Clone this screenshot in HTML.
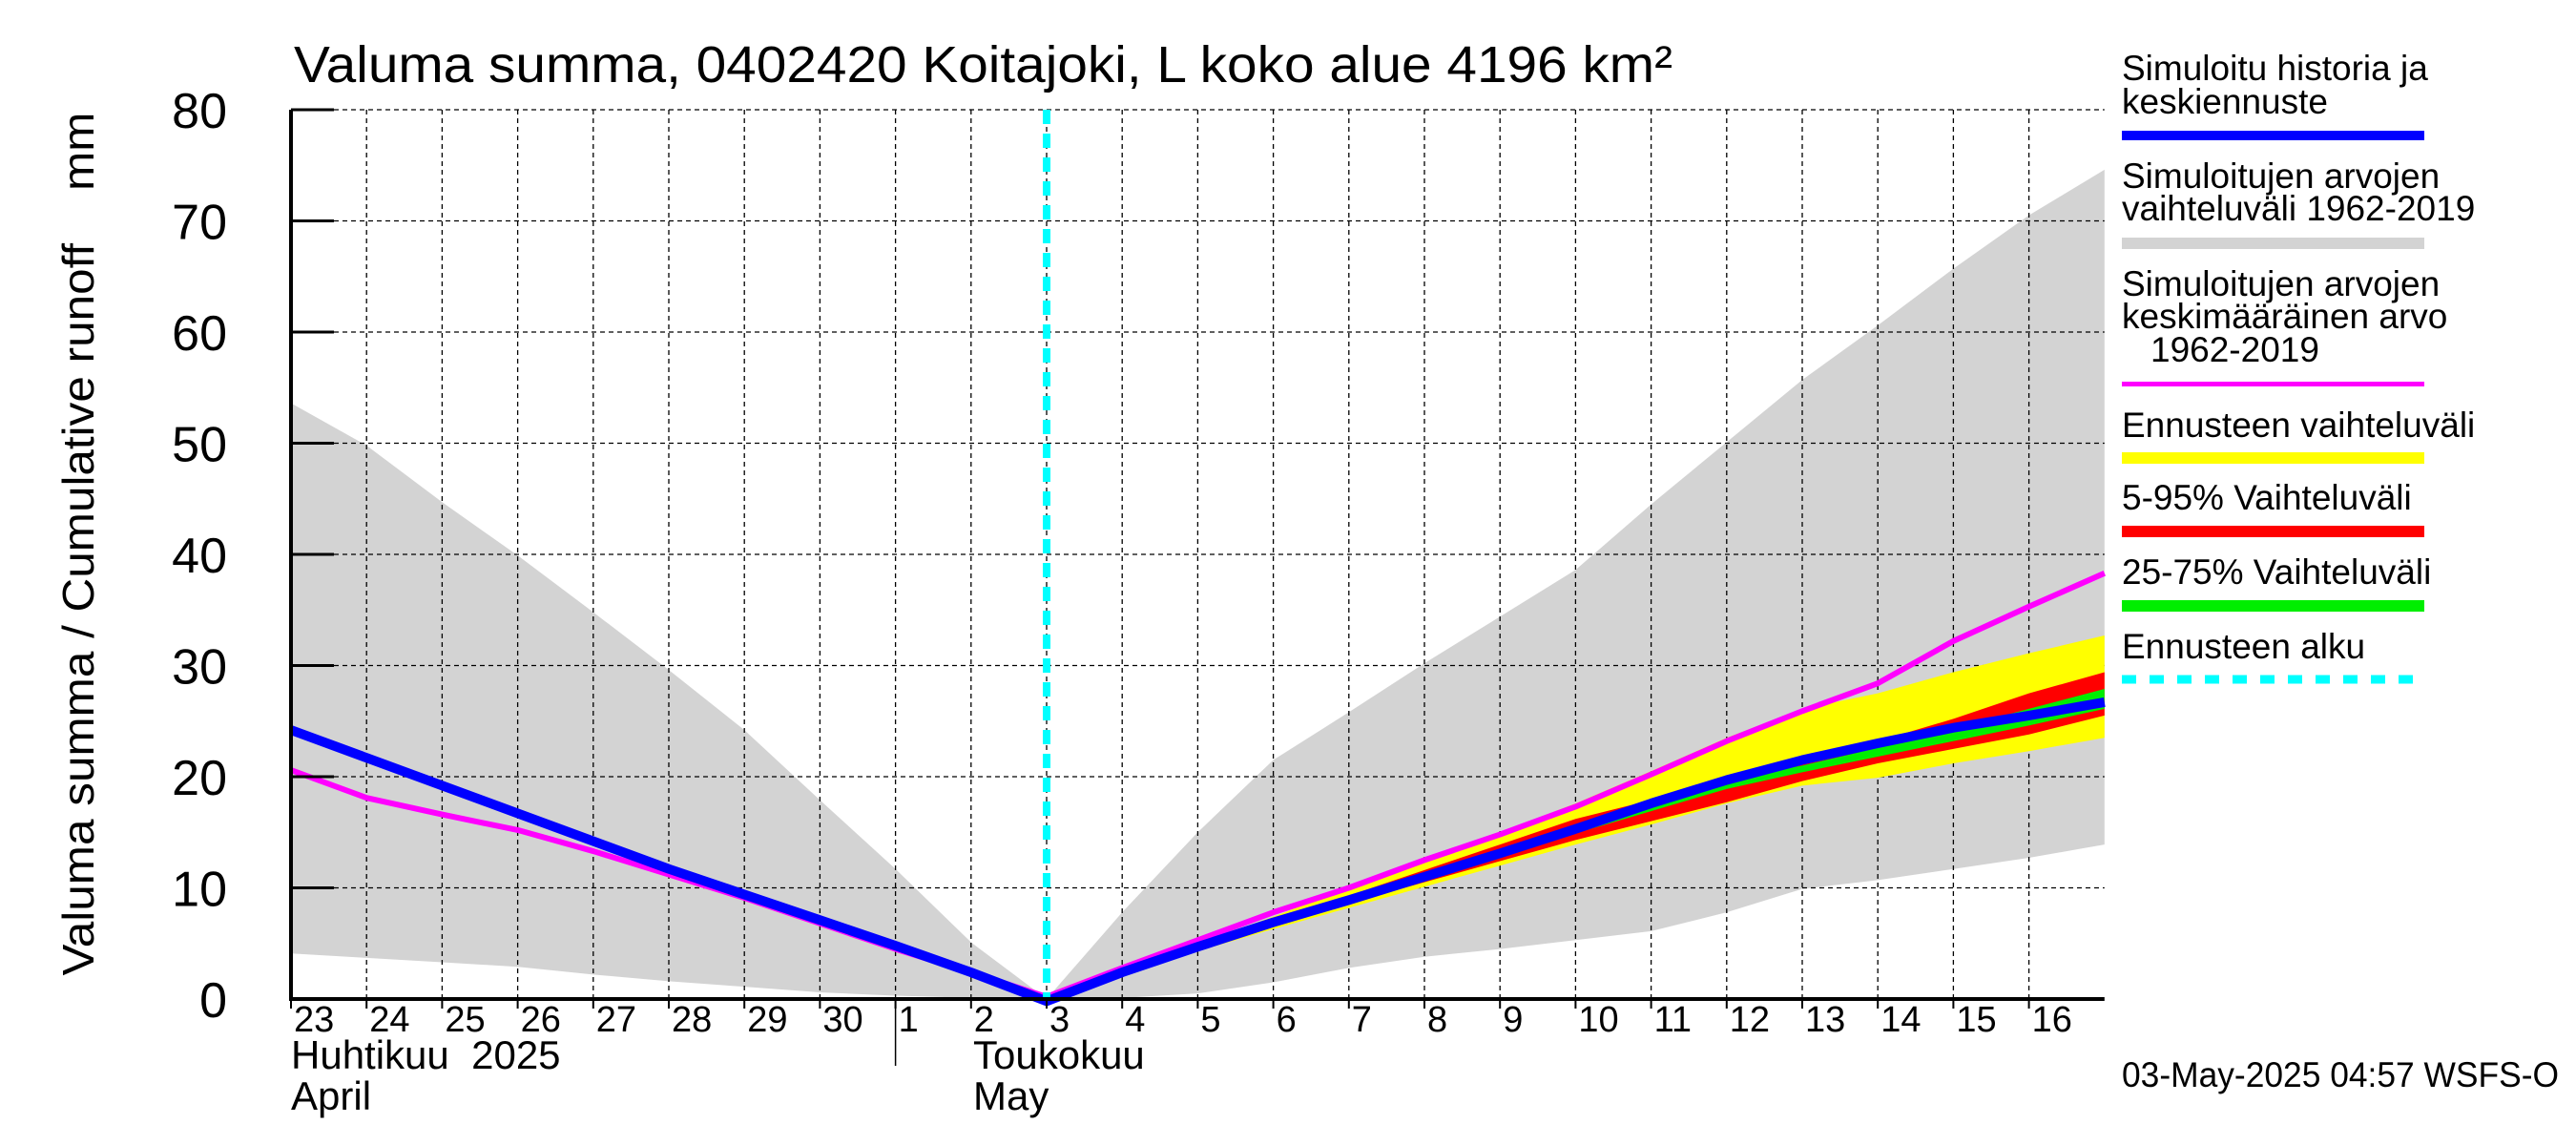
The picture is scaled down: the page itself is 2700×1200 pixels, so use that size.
<!DOCTYPE html>
<html><head><meta charset="utf-8"><style>
html,body{margin:0;padding:0;background:#fff;}
svg{display:block;font-family:"Liberation Sans",sans-serif;}
</style></head><body>
<svg id="chart" width="2700" height="1200" viewBox="0 0 2700 1200" xmlns="http://www.w3.org/2000/svg">
<text x="308" y="86" font-size="54" textLength="1445" lengthAdjust="spacingAndGlyphs">Valuma summa, 0402420 Koitajoki, L koko alue 4196 km²</text>
<text transform="translate(98,570) rotate(-90)" text-anchor="middle" font-size="46" textLength="905" lengthAdjust="spacingAndGlyphs" xml:space="preserve" style="white-space:pre">Valuma summa / Cumulative runoff    mm</text>
<g id="plot"></g>
<g id="legend" font-size="37">
 <text x="2224" y="84">Simuloitu historia ja</text><text x="2224" y="119">keskiennuste</text>
 <rect x="2224" y="137" width="317" height="10" fill="#0000ff"/>
 <text x="2224" y="197">Simuloitujen arvojen</text><text x="2224" y="231">vaihteluväli 1962-2019</text>
 <rect x="2224" y="249" width="317" height="12" fill="#d3d3d3"/>
 <text x="2224" y="310">Simuloitujen arvojen</text><text x="2224" y="344">keskimääräinen arvo</text><text x="2254" y="379">1962-2019</text>
 <rect x="2224" y="400" width="317" height="5" fill="#ff00ff"/>
 <text x="2224" y="458">Ennusteen vaihteluväli</text>
 <rect x="2224" y="474" width="317" height="12" fill="#ffff00"/>
 <text x="2224" y="534">5-95% Vaihteluväli</text>
 <rect x="2224" y="551" width="317" height="12" fill="#ff0000"/>
 <text x="2224" y="612">25-75% Vaihteluväli</text>
 <rect x="2224" y="629" width="317" height="12" fill="#00ee00"/>
 <text x="2224" y="690">Ennusteen alku</text>
 <line x1="2224" y1="712" x2="2541" y2="712" stroke="#00ffff" stroke-width="9" stroke-dasharray="15,14"/>
</g>
<text x="2224" y="1139" font-size="37" textLength="458" lengthAdjust="spacingAndGlyphs">03-May-2025 04:57 WSFS-O</text>
</svg>
<script>
const dayLabels=["23","24","25","26","27","28","29","30","1","2","3","4","5","6","7","8","9","10","11","12","13","14","15","16"];
const yTicks=[0,10,20,30,40,50,60,70,80];
const histDays=[0,1,2,3,4,5,6,7,8,9,10,11,12,13,14,15,16,17,18,19,20,21,22,23,24];
const greyUpper=[53.6,49.8,44.7,39.9,34.8,29.6,24.2,17.9,11.7,5.1,0,7.8,15,21.5,25.8,30.2,34.4,38.6,44.5,50.1,55.7,60.6,65.7,70.5,74.6];
const greyLower=[4.1,3.7,3.3,2.9,2.2,1.6,1.1,0.6,0.3,0.1,0,0.1,0.5,1.5,2.8,3.8,4.5,5.3,6.1,7.8,9.9,10.7,11.7,12.7,13.9];
const meanVals=[20.6,18.1,16.6,15.2,13.3,11.2,9.1,6.8,4.5,2.4,0.2,2.8,5.3,7.8,10.0,12.5,14.8,17.3,20.2,23.2,25.9,28.4,32.2,35.3,38.3];
const blueVals=[24.2,21.7,19.2,16.7,14.2,11.7,9.4,7.1,4.8,2.4,-0.2,2.4,4.7,6.9,8.9,11.0,13.1,15.3,17.6,19.7,21.5,23.0,24.4,25.5,26.7];
const fcDays=[10,11,12,13,14,15,16,17,18,19,20,21,22,23,24];
const yelUp=[0,2.6,5.0,7.4,10.0,12.5,15.0,17.6,20.5,23.5,26.1,27.5,29.4,31.1,32.7];
const yelLo=[0,2.2,4.3,6.3,8.2,10.1,12.0,13.9,15.7,17.6,19.2,19.9,21.2,22.3,23.5];
const redUp=[0,2.5,4.8,7.1,9.3,11.6,13.9,16.2,17.9,19.9,21.5,23.2,25.2,27.5,29.4];
const redLo=[0,2.3,4.5,6.6,8.6,10.5,12.4,14.3,16.0,17.7,19.6,21.2,22.5,23.8,25.5];
const grnUp=[0,2.45,4.7,6.95,9.1,11.3,13.5,15.7,17.7,19.8,21.0,22.6,24.3,26.1,27.9];
const grnLo=[0,2.35,4.6,6.8,8.8,10.8,12.8,14.9,16.9,18.9,20.4,21.8,23.2,24.6,26.1];
const forecastStart=10;

const X0=305,DW=79.2,Y0=1047,YU=11.65;
const xs=d=>X0+d*DW, ys=v=>Y0-v*YU;
const NS="http://www.w3.org/2000/svg";
const plot=document.getElementById('plot');
function mk(t,a){const e=document.createElementNS(NS,t);for(const k in a)e.setAttribute(k,a[k]);plot.appendChild(e);return e;}
function band(days,up,lo,fill,name){
  let p=days.map((d,i)=>xs(d)+','+ys(up[i]));
  for(let i=days.length-1;i>=0;i--)p.push(xs(days[i])+','+ys(lo[i]));
  const e=mk('polygon',{points:p.join(' '),fill:fill});
  
  
}
function line(days,vals,stroke,w,name){
  const e=mk('polyline',{points:days.map((d,i)=>xs(d)+','+ys(vals[i])).join(' '),fill:'none',stroke:stroke,'stroke-width':w,'stroke-linejoin':'round'});
  
  
}
band(histDays,greyUpper,greyLower,'#d3d3d3','simulated-range-band');
for(let d=1;d<24;d++){const g=mk('line',{x1:xs(d),y1:ys(80),x2:xs(d),y2:Y0,stroke:'#000','stroke-width':1.3,'stroke-dasharray':'5,4'});

}
for(const v of yTicks){if(v===0)continue;const g=mk('line',{x1:X0,y1:ys(v),x2:xs(24),y2:ys(v),stroke:'#000','stroke-width':1.3,'stroke-dasharray':'5,4'});

}
band(fcDays,yelUp,yelLo,'#ffff00','forecast-range-band');
band(fcDays,redUp,redLo,'#ff0000','band-5-95');
band(fcDays,grnUp,grnLo,'#00ee00','band-25-75');
line(histDays,meanVals,'#ff00ff',6,'mean-line');
line(histDays,blueVals,'#0000ff',10,'simulated-history-line');
const fs=mk('line',{x1:xs(forecastStart),y1:ys(80),x2:xs(forecastStart),y2:Y0,stroke:'#00ffff','stroke-width':8,'stroke-dasharray':'15,10'});


const ax=mk('path',{d:`M${X0},${ys(80)} V${Y0} H${xs(24)}`,fill:'none',stroke:'#000','stroke-width':4});


yTicks.forEach(v=>{
  const t=mk('line',{x1:X0,y1:ys(v),x2:X0+45,y2:ys(v),stroke:'#000','stroke-width':3});
  
  
  const l=mk('text',{x:238,y:ys(v)+19,'text-anchor':'end','font-size':52});
  l.textContent=v;
  
  
});
dayLabels.forEach((s,i)=>{
  const t=mk('line',{x1:xs(i),y1:Y0,x2:xs(i),y2:Y0+10,stroke:'#000','stroke-width':2});
  
  
  const l=mk('text',{x:xs(i)+3,y:1081,'font-size':38});
  l.textContent=s;
  
  
});
const ms=mk('line',{x1:xs(8),y1:Y0,x2:xs(8),y2:1117,stroke:'#000','stroke-width':1.5});


[["Huhtikuu  2025",305,1120,'month-label-april-fi'],["April",305,1163,'month-label-april-en'],["Toukokuu",1020,1120,'month-label-may-fi'],["May",1020,1163,'month-label-may-en']].forEach(a=>{
  const l=mk('text',{x:a[1],y:a[2],'font-size':42});l.textContent=a[0];
  l.setAttribute('xml:space','preserve');l.style.whiteSpace='pre';
  
  
});
</script>
</body></html>
